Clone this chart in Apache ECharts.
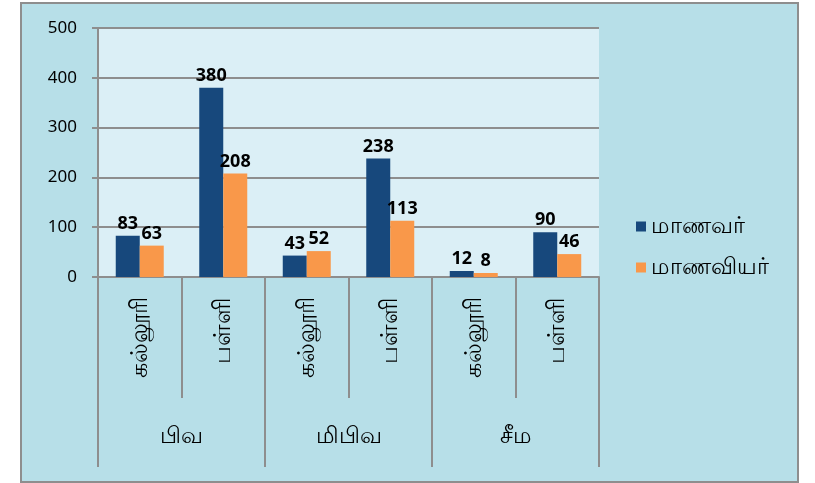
<!DOCTYPE html>
<html>
<head>
<meta charset="utf-8">
<script src="https://cdn.jsdelivr.net/npm/echarts@6/dist/echarts.min.js"></script>
<style>
  html, body { margin: 0; padding: 0; background: #fff; }
  #frame {
    position: absolute; left: 20px; top: 2px; width: 775px; height: 477px;
    background: #b7dfe8; border: 2px solid #8e8e8e;
  }
  #chart { position: absolute; left: 0; top: 0; width: 815px; height: 483px; }
</style>
</head>
<body>
<div id="frame"></div>
<div id="chart"></div>
<script>
// Two-level categories: inner (bars) and outer (groups)
const innerCategories = ['கல்லூரி', 'பள்ளி', 'கல்லூரி', 'பள்ளி', 'கல்லூரி', 'பள்ளி']
const outerGroups = ['பிவ', 'மிபிவ', 'சீம']
const seriesNames = ['மாணவர்', 'மாணவியர்']
const boysValues = [83, 380, 43, 238, 12, 90]
const girlsValues = [63, 208, 52, 113, 8, 46]

const COLOR_BOYS = '#17487c'
const COLOR_GIRLS = '#f9984a'
const COLOR_LINE = '#8e8e8e'
const FONT = "'Noto Sans', 'Liberation Sans', sans-serif"

const chart = echarts.init(document.getElementById('chart'))

const barLabel = {
  show: true,
  position: 'top',
  distance: 3,
  color: '#000',
  fontWeight: 'bold',
  fontSize: 18,
  fontFamily: FONT,
}

chart.setOption({
  animation: false,
  textStyle: { fontFamily: FONT },
  grid: {
    left: 98, right: 216, top: 28, bottom: 206,
    show: true, backgroundColor: '#dbeff6', borderWidth: 0,
  },
  legend: {
    orient: 'vertical',
    left: 631,
    top: 210,
    itemWidth: 10,
    itemHeight: 10,
    itemGap: 18,
    icon: 'rect',
    textStyle: { fontSize: 23, color: '#000', fontFamily: FONT },
    data: seriesNames,
  },
  xAxis: [
    {
      type: 'category',
      position: 'bottom',
      data: innerCategories,
      axisLine: { show: true, lineStyle: { color: COLOR_LINE, width: 2 } },
      axisTick: { show: true, length: 121, interval: 0, lineStyle: { color: COLOR_LINE, width: 2 } },
      axisLabel: { rotate: 90, margin: 20, interval: 0, fontSize: 24, color: '#000' },
    },
    {
      type: 'category',
      position: 'bottom',
      data: outerGroups,
      axisLine: { show: false },
      axisTick: { show: true, length: 190, interval: 0, lineStyle: { color: COLOR_LINE, width: 2 } },
      axisLabel: { margin: 148, interval: 0, fontSize: 23, color: '#000' },
    },
  ],
  yAxis: {
    type: 'value',
    min: 0,
    max: 500,
    interval: 100,
    axisLine: { show: true, lineStyle: { color: COLOR_LINE, width: 2 } },
    axisTick: { show: true, length: 6, lineStyle: { color: COLOR_LINE, width: 2 } },
    axisLabel: { margin: 21, fontSize: 17, color: '#000' },
    splitLine: { lineStyle: { color: COLOR_LINE, width: 2 } },
  },
  series: [
    {
      name: seriesNames[0],
      type: 'bar',
      xAxisIndex: 0,
      barWidth: 24,
      barGap: '0%',
      itemStyle: { color: COLOR_BOYS },
      label: barLabel,
      data: boysValues,
    },
    {
      name: seriesNames[1],
      type: 'bar',
      xAxisIndex: 0,
      barWidth: 24,
      barGap: '0%',
      itemStyle: { color: COLOR_GIRLS },
      label: barLabel,
      data: girlsValues,
    },
  ],
})
</script>
</body>
</html>
